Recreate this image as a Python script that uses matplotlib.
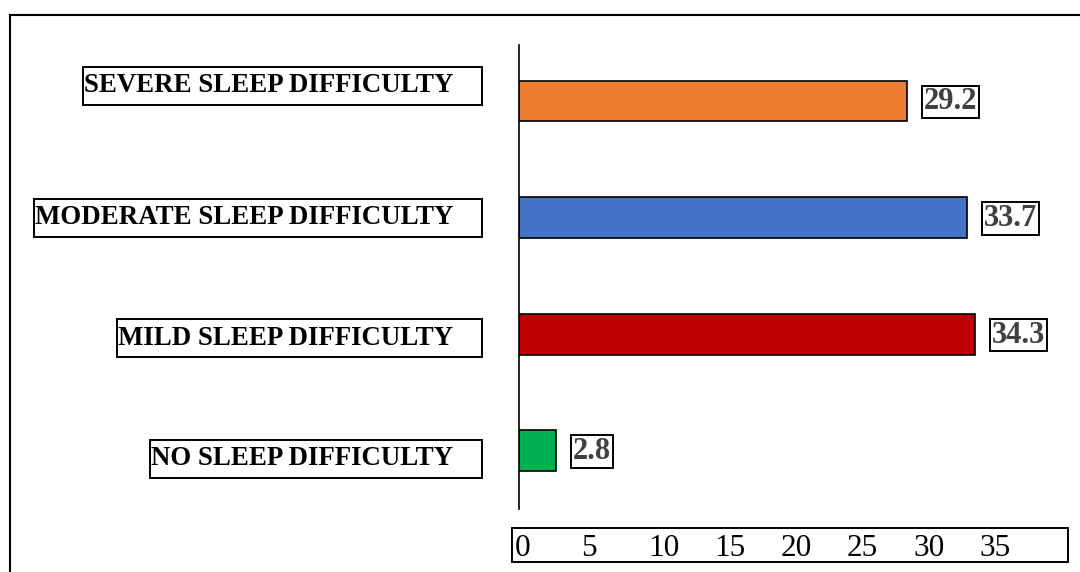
import matplotlib
matplotlib.use('Agg')
import matplotlib.pyplot as plt
from matplotlib.patches import Rectangle
from matplotlib.lines import Line2D
from matplotlib.transforms import ScaledTranslation, IdentityTransform

categorias = ['NO SLEEP DIFFICULTY', 'MILD SLEEP DIFFICULTY',
              'MODERATE SLEEP DIFFICULTY', 'SEVERE SLEEP DIFFICULTY']
porcentajes = [2.8, 34.3, 33.7, 29.2]
colores = ['#00B050', '#C00000', '#4472C4', '#ED7D31']
marcas = [0, 5, 10, 15, 20, 25, 30, 35]

# corrimiento vertical de cada etiqueta de categoria (px)
corrim = [-8, -4, 0, 15]

plt.rcParams['font.family'] = ['Liberation Serif', 'DejaVu Serif']

W, H = 1080, 572
fig = plt.figure(figsize=(W/100, H/100), dpi=100)
ax = fig.add_axes([519/W, 1-509/H, 549/W, (509-45)/H])

pos = list(range(len(categorias)))
ax.barh(pos, porcentajes, height=0.35, color=colores, edgecolor='black', linewidth=1.2)
ax.set_xlim(0, 41.34)
ax.set_ylim(-0.5, 3.48)

for s in ['top', 'right', 'bottom']:
    ax.spines[s].set_visible(False)
ax.spines['left'].set_linewidth(1.2)
ax.set_yticks([])
ax.set_xticks(marcas)
ax.set_xticklabels([str(m) for m in marcas])
ax.tick_params(axis='x', length=0, pad=18, labelsize=22.5)
corr = ScaledTranslation(-4/100, 0, fig.dpi_scale_trans)
for lb in ax.get_xticklabels():
    lb.set_ha('left')
    lb.set_transform(lb.get_transform() + corr)

# valores al final de cada barra
for i, v in enumerate(porcentajes):
    ax.annotate(f'{v}', xy=(v, i), xytext=(17, -1), textcoords='offset pixels',
                ha='left', va='center', fontsize=22, fontweight='bold', color='#404040',
                bbox=dict(boxstyle='square,pad=0.06', fc='white', ec='black', lw=1.4))

# nombres de las categorias
etiquetas = []
for i, c in enumerate(categorias):
    t = ax.annotate(c, xy=(0, i), xycoords=ax.get_yaxis_transform(),
                    xytext=(-66, corrim[i]), textcoords='offset pixels',
                    ha='right', va='center', fontsize=19.4, fontweight='bold', color='black')
    etiquetas.append(t)

fig.canvas.draw()
r = fig.canvas.get_renderer()
for t in etiquetas:
    bb = t.get_window_extent(r)
    cy = (bb.y0 + bb.y1) / 2
    fig.add_artist(Rectangle((bb.x0 - 1, cy - 19), bb.width + 30, 38, transform=IdentityTransform(),
                             fill=False, ec='black', lw=1.4))

# caja de las marcas del eje x
fig.add_artist(Rectangle((512/W, 1-562/H), 556/W, 34/H, transform=fig.transFigure,
                         fill=False, ec='black', lw=1.4))

# marco exterior
fig.add_artist(Line2D([10/W, 1], [1-15/H, 1-15/H], transform=fig.transFigure, color='black', lw=1.5))
fig.add_artist(Line2D([10/W, 10/W], [0, 1-15/H], transform=fig.transFigure, color='black', lw=1.5))

fig.savefig('out.png', dpi=100)
